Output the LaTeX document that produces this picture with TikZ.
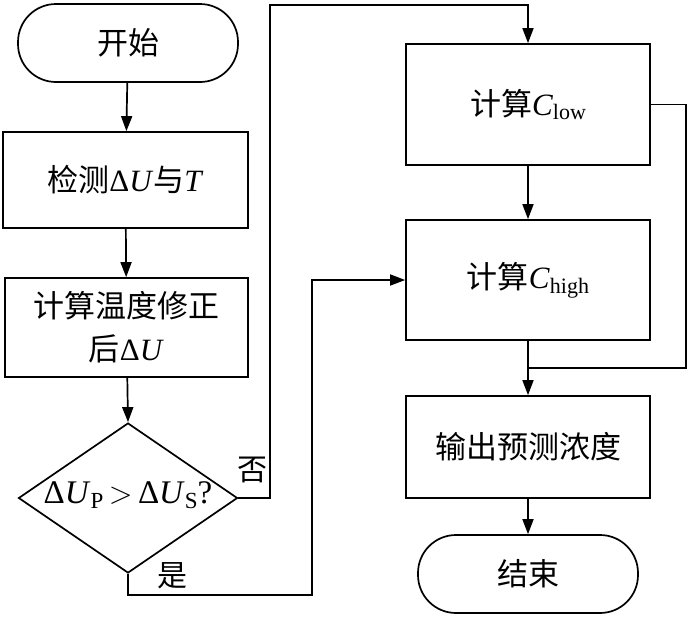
\documentclass[tikz,border=0pt]{standalone}
\usepackage{fontspec}
\setmainfont{Liberation Serif}
\newfontfamily\cjk{Noto Sans CJK SC}
\usetikzlibrary{arrows.meta,shapes.geometric}
\begin{document}
\begin{tikzpicture}[x=1pt,y=-1pt,line width=1.7pt,
  txt/.style={font=\fontsize{31}{43}\selectfont,align=center},
  box/.style={draw,rectangle,inner sep=0pt,txt},
  term/.style={draw,rectangle,inner sep=0pt,rounded corners=38pt,minimum width=220pt,minimum height=78pt,txt},
  dia/.style={draw,diamond,inner sep=0pt,minimum width=219pt,minimum height=150pt},
  arr/.style={-{Triangle[length=15pt,width=11pt]}},
  lbl/.style={font=\fontsize{30}{30}\selectfont\cjk}]
\useasboundingbox (0,0) rectangle (688,616);
\node[term] (start) at (128,43) {\cjk 开始};
\node[box,minimum width=245pt,minimum height=96pt] (b1) at (125.5,180) {{\cjk 检测}Δ\textit{U}{\cjk 与}\textit{T}};
\node[box,minimum width=243pt,minimum height=99pt] (b2) at (126.5,327.5) {{\cjk 计算温度修正}\\{\cjk 后}Δ\textit{U}};
\node[dia] (d) at (128,498) {};
\node[font=\fontsize{33}{33}\selectfont] (dt) at (128,495) {Δ\textit{U}\raisebox{-0.3ex}{\fontsize{23}{23}\selectfont P}\,\scalebox{1.25}{$>$}\,Δ\textit{U}\raisebox{-0.3ex}{\fontsize{23}{23}\selectfont S}?};
\node[box,minimum width=244pt,minimum height=121pt] (clow) at (528,104.5) {{\cjk 计算}\textit{C}\raisebox{-0.35ex}{\fontsize{22}{22}\selectfont low}};
\node[box,minimum width=244pt,minimum height=120pt] (chigh) at (528,280) {{\cjk 计算}\textit{C}\raisebox{-0.35ex}{\fontsize{22}{22}\selectfont high}};
\node[box,minimum width=244pt,minimum height=102pt] (out) at (528,447) {\cjk 输出预测浓度};
\node[term] (end) at (528,574) {\cjk 结束};
\coordinate (j) at (528,368);
\node[lbl] (no) at (252,470) {否};
\node[lbl] (yes) at (172,576) {是};
\draw[arr] (start) -- (b1);
\draw[arr] (b1) -- (b2);
\draw[arr] (b2) -- (d.north);
\draw[arr] (d.east) -| (270,5) -| (clow.north);
\draw[arr] (d.south) |- (312,595) |- (chigh.west);
\draw[arr] (clow) -- (chigh);
\draw[arr] (chigh) -- (out);
\draw (clow.east) -| (686,368) -- (j);
\draw[arr] (out) -- (end);
\end{tikzpicture}
\end{document}
